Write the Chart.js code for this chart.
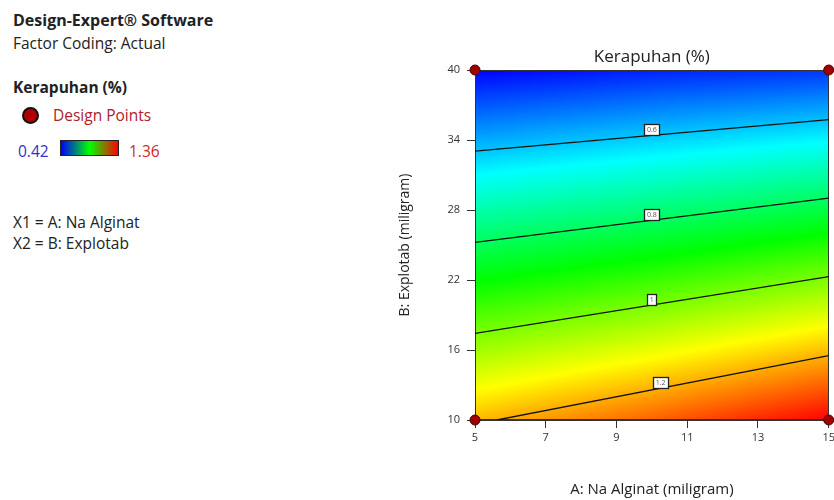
<!DOCTYPE html>
<html lang="en">
<head>
    <meta charset="UTF-8">
    <title>Kerapuhan contour</title>
    <script src="https://cdn.jsdelivr.net/npm/chart.js"></script>
    <style>
        body {
            margin: 0;
            background: #fff;
            font-family: "Open Sans", sans-serif;
            width: 834px;
            height: 500px;
            position: relative;
            overflow: hidden;
        }
        .side { position: absolute; left: 13px; color: #222; font-size: 15.5px; line-height: 20px; white-space: nowrap; }
        .bold { font-weight: bold; }
        #plotWrap { position: absolute; left: 380px; top: 0; }
        .dot {
            position: absolute; left: 22px; top: 107px; width: 13px; height: 13px;
            border-radius: 50%; background: #b00000; border: 2px solid #111;
        }
        .bar {
            position: absolute; left: 60px; top: 140px; width: 57px; height: 14px;
            border: 1px solid #222;
            background: linear-gradient(to right, #0000ff, #00ff00, #ff0000);
        }
    </style>
</head>
<body>
    <div class="side bold" style="top:10px; font-size:16px;">Design-Expert® Software</div>
    <div class="side" style="top:33px;">Factor Coding: Actual</div>
    <div class="side bold" style="top:77px;">Kerapuhan (%)</div>
    <div class="dot"></div>
    <div class="side" style="left:53px; top:105px; color:#b0202a;">Design Points</div>
    <div class="side" style="left:18px; top:141px; color:#3030c8;">0.42</div>
    <div class="bar"></div>
    <div class="side" style="left:129px; top:141px; color:#d02828;">1.36</div>
    <div class="side" style="top:212px;">X1 = A: Na Alginat</div>
    <div class="side" style="top:233px;">X2 = B: Explotab</div>

    <div id="plotWrap"><canvas id="contour" width="458" height="500"></canvas></div>

    <script>
        // ticks
        const xTicks = [5, 7, 9, 11, 13, 15];
        const yTicks = [10, 16, 22, 28, 34, 40];

        // response surface read at a coarse grid (A across, B down)
        const gridA = [5, 10, 15];
        const gridB = [10, 25, 40];
        const gridValues = [
            [1.19, 1.27, 1.36],   // B = 10
            [0.81, 0.86, 0.92],   // B = 25
            [0.42, 0.45, 0.47]    // B = 40
        ];
        const valueMin = 0.42;
        const valueMax = 1.36;

        // contour lines (A, B end points) and their labels
        const contour06 = [{x: 5, y: 33.05}, {x: 15, y: 35.74}];
        const contour08 = [{x: 5, y: 25.23}, {x: 15, y: 29.01}];
        const contour10 = [{x: 5, y: 17.42}, {x: 15, y: 22.29}];
        const contour12 = [{x: 5.62, y: 10}, {x: 15, y: 15.51}];
        const contourText = ['0.6', '0.8', '1', '1.2'];
        const labelA = [10, 10, 10, 10.25];

        // design points
        const designA = [5, 15, 5, 15];
        const designB = [10, 10, 40, 40];

        const fontFamily = '"Open Sans", sans-serif';

        function valueAt(a, b) {
            let i = a <= gridA[1] ? 0 : 1;
            let j = b <= gridB[1] ? 0 : 1;
            const ta = Math.min(1, Math.max(0, (a - gridA[i]) / (gridA[i + 1] - gridA[i])));
            const tb = Math.min(1, Math.max(0, (b - gridB[j]) / (gridB[j + 1] - gridB[j])));
            const v00 = gridValues[j][i], v01 = gridValues[j][i + 1];
            const v10 = gridValues[j + 1][i], v11 = gridValues[j + 1][i + 1];
            return (v00 * (1 - ta) + v01 * ta) * (1 - tb) + (v10 * (1 - ta) + v11 * ta) * tb;
        }

        const stops = [[0, 0, 255], [0, 255, 255], [0, 255, 0], [255, 255, 0], [255, 0, 0]];
        function colourFor(v) {
            let t = (v - valueMin) / (valueMax - valueMin);
            t = Math.min(1, Math.max(0, t)) * 4;
            const k = Math.min(3, Math.floor(t));
            const f = t - k;
            const c0 = stops[k], c1 = stops[k + 1];
            return [0, 1, 2].map(n => Math.round(c0[n] + (c1[n] - c0[n]) * f));
        }

        const fieldPlugin = {
            id: 'field',
            beforeDraw(chart) {
                const {ctx, chartArea: a, scales: {x, y}} = chart;
                const w = Math.round(a.right - a.left), h = Math.round(a.bottom - a.top);
                const off = document.createElement('canvas');
                off.width = w; off.height = h;
                const octx = off.getContext('2d');
                const img = octx.createImageData(w, h);
                for (let j = 0; j < h; j++) {
                    const b = y.getValueForPixel(a.top + j + 0.5);
                    for (let i = 0; i < w; i++) {
                        const av = x.getValueForPixel(a.left + i + 0.5);
                        const c = colourFor(valueAt(av, b));
                        const p = (j * w + i) * 4;
                        img.data[p] = c[0]; img.data[p + 1] = c[1]; img.data[p + 2] = c[2]; img.data[p + 3] = 255;
                    }
                }
                octx.putImageData(img, 0, 0);
                ctx.save();
                ctx.drawImage(off, a.left, a.top);
                ctx.strokeStyle = '#333';
                ctx.lineWidth = 1;
                ctx.strokeRect(a.left + 0.5, a.top + 0.5, w - 1, h - 1);
                ctx.restore();
            },
            afterDatasetsDraw(chart) {
                const {ctx, scales: {x, y}} = chart;
                ctx.save();
                ctx.font = '7px ' + fontFamily;
                ctx.textAlign = 'center';
                ctx.textBaseline = 'middle';
                [contour06, contour08, contour10, contour12].forEach((line, k) => {
                    const p0 = line[0], p1 = line[1];
                    const t = (labelA[k] - p0.x) / (p1.x - p0.x);
                    const bv = p0.y + (p1.y - p0.y) * t;
                    const px = x.getPixelForValue(labelA[k]);
                    const py = y.getPixelForValue(bv) - 6;
                    const bw = contourText[k].length > 1 ? 15 : 9;
                    ctx.fillStyle = '#fff';
                    ctx.fillRect(px - bw / 2, py - 5, bw, 11);
                    ctx.strokeStyle = '#222';
                    ctx.lineWidth = 1.3;
                    ctx.strokeRect(Math.round(px - bw / 2) + 0.5, Math.round(py - 5) + 0.5, bw, 11);
                    ctx.fillStyle = '#555';
                    ctx.fillText(contourText[k], px, py + 1);
                });
                ctx.restore();
            }
        };

        const lineStyle = {
            showLine: true, borderColor: '#111', borderWidth: 1.3,
            pointRadius: 0, fill: false
        };

        new Chart(document.getElementById('contour').getContext('2d'), {
            type: 'scatter',
            data: {
                datasets: [
                    Object.assign({label: '0.6', data: contour06}, lineStyle),
                    Object.assign({label: '0.8', data: contour08}, lineStyle),
                    Object.assign({label: '1', data: contour10}, lineStyle),
                    Object.assign({label: '1.2', data: contour12}, lineStyle),
                    {
                        label: 'Design Points',
                        data: designA.map((a, i) => ({x: a, y: designB[i]})),
                        pointRadius: 5,
                        backgroundColor: '#a00000',
                        borderColor: '#4a0000',
                        borderWidth: 1,
                        clip: false
                    }
                ]
            },
            options: {
                responsive: false,
                animation: false,
                layout: {padding: {left: 0, right: 0, top: 0, bottom: 0}},
                plugins: {
                    legend: {display: false},
                    tooltip: {enabled: false},
                    title: {
                        display: true,
                        text: 'Kerapuhan (%)',
                        fullSize: false,
                        color: '#222',
                        font: {family: fontFamily, size: 17, weight: 'normal'},
                        padding: {top: 47, bottom: 2.6}
                    }
                },
                scales: {
                    x: {
                        type: 'linear', min: 5, max: 15,
                        afterBuildTicks: s => { s.ticks = xTicks.map(v => ({value: v})); },
                        afterFit: s => { s.height = 80; },
                        grid: {drawOnChartArea: false, drawTicks: true, tickLength: 8, color: '#333'},
                        border: {color: '#333', width: 1},
                        ticks: {font: {family: fontFamily, size: 11}, color: '#333', padding: 3, maxRotation: 0, autoSkip: false},
                        title: {
                            display: true, text: 'A: Na Alginat (miligram)', color: '#222',
                            font: {family: fontFamily, size: 15}, padding: {top: 0, bottom: 1}
                        }
                    },
                    y: {
                        type: 'linear', min: 10, max: 40,
                        afterBuildTicks: s => { s.ticks = yTicks.map(v => ({value: v})); },
                        afterFit: s => { s.width = 95; },
                        grid: {drawOnChartArea: false, drawTicks: true, tickLength: 8, color: '#333'},
                        border: {color: '#333', width: 1},
                        ticks: {font: {family: fontFamily, size: 11}, color: '#333', padding: 7, autoSkip: false},
                        title: {
                            display: true, text: 'B: Explotab (miligram)', color: '#222',
                            font: {family: fontFamily, size: 14}, padding: {top: 16.5, bottom: 0}
                        }
                    }
                }
            },
            plugins: [fieldPlugin]
        });
    </script>
</body>
</html>
